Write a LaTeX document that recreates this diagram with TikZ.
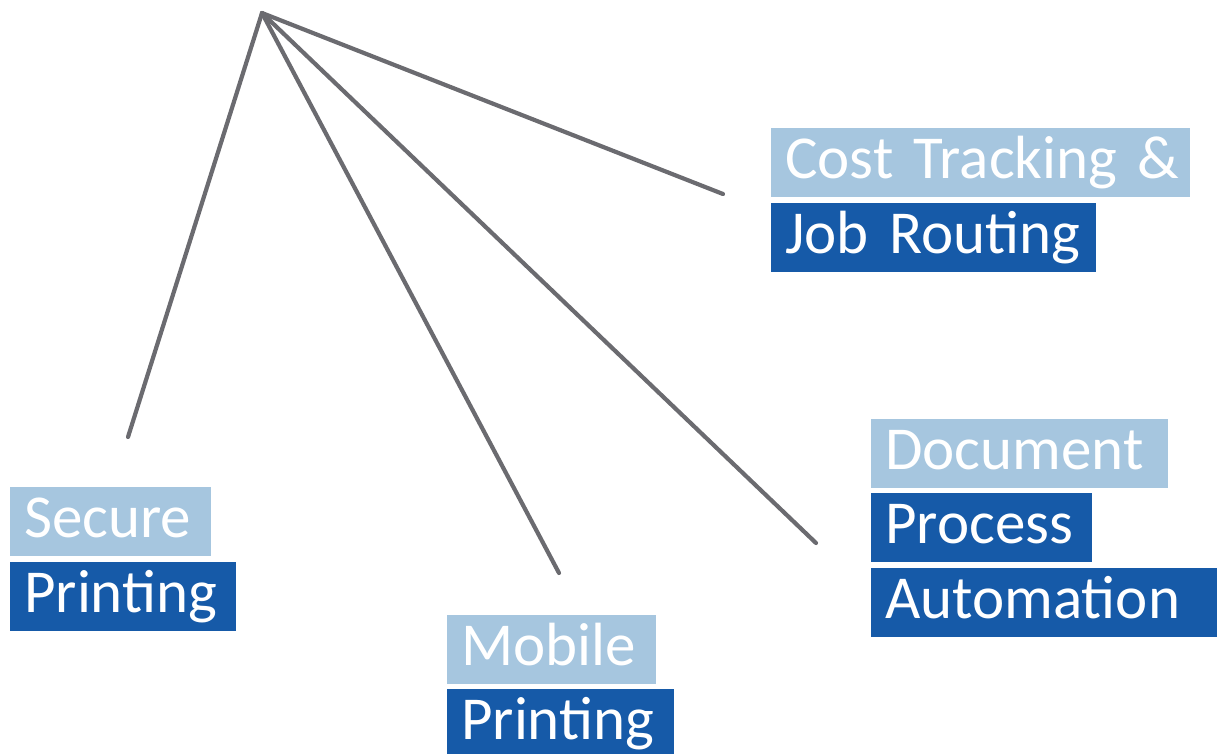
\documentclass[tikz,border=0pt]{standalone}
\usepackage{fontspec}
\setmainfont{Carlito}
\definecolor{lightblue}{HTML}{A6C6DF}
\definecolor{darkblue}{HTML}{165AA8}
\definecolor{linegray}{HTML}{6B6B70}
\begin{document}
\begin{tikzpicture}[x=1pt,y=-1pt,
  labelbox/.style={anchor=north west, inner xsep=14pt, inner ysep=0pt,
    text height=50pt, text depth=19pt, text=white, align=left,
    font=\fontsize{61}{61}\selectfont},
  lightbox/.style={labelbox, fill=lightblue},
  darkbox/.style={labelbox, fill=darkblue},
  spoke/.style={draw=linegray, line width=4.2pt, line cap=round}]
\useasboundingbox (0,0) rectangle (1219,753);
% spokes
\coordinate (apex) at (262,13);
\coordinate (endsecure) at (128,437);
\coordinate (endmobile) at (559,573);
\coordinate (enddoc) at (816,543);
\coordinate (endcost) at (723,194);
\draw[spoke] (apex) -- (endsecure);
\draw[spoke] (apex) -- (endmobile);
\draw[spoke] (apex) -- (enddoc);
\draw[spoke] (apex) -- (endcost);
% labels
\node[lightbox, text width=173pt] (secure) at (10,487) {\mbox{Secure}};
\node[darkbox, text width=198pt] (printing1) at (10,562) {\mbox{Printing}};
\node[lightbox, text width=391pt] (cost) at (771,128) {\mbox{Cost Tracking \&}};
\node[darkbox, text width=297pt] (job) at (771,203) {\mbox{Job Routing}};
\node[lightbox, text width=269pt] (document) at (871,419) {\mbox{Document}};
\node[darkbox, text width=193pt] (process) at (871,493) {\mbox{Process}};
\node[darkbox, text width=318pt] (automation) at (871,568) {\mbox{Automation}};
\node[lightbox, text width=181pt] (mobile) at (447,615) {\mbox{Mobile}};
\node[darkbox, text width=199pt] (printing2) at (447,689) {\mbox{Printing}};
\end{tikzpicture}
\end{document}
